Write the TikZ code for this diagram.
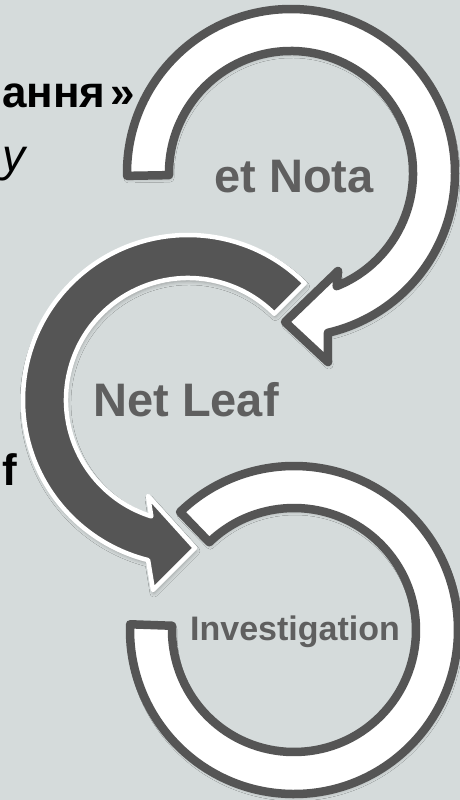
\documentclass[tikz,border=0pt]{standalone}
\usepackage{fontspec}
\setmainfont{Liberation Sans}
\usetikzlibrary{calc,shadows.blur}
\definecolor{bg}{HTML}{D5DBDB}
\definecolor{dk}{HTML}{555555}
\definecolor{lbl}{HTML}{5F5F5F}
\tikzset{
  shd/.style={blur shadow={shadow xshift=1pt, shadow yshift=-3pt, shadow blur radius=4pt, shadow opacity=30}},
  whitearrow/.style={fill=white, draw=dk, line width=8.5pt, line join=round, shd},
  darkarrow/.style={fill=dk, draw=white, line width=4.5pt, line join=round, shd},
  lab/.style={text=lbl, inner sep=0pt, font=\bfseries\fontsize{47}{50}\selectfont},
  smalllab/.style={text=lbl, inner sep=0pt, font=\bfseries\fontsize{34}{38}\selectfont},
  side/.style={text=black, inner sep=0pt},
}
\begin{document}
\begin{tikzpicture}[x=1pt, y=-1pt]
\useasboundingbox (0,0) rectangle (460,800);
\fill[bg] (0,0) rectangle (460,800);
\clip (0,0) rectangle (460,800);

\coordinate (C1) at (291,173);
\coordinate (C2) at (188,400);
\coordinate (C3) at (294,630);

% bottom ring (no head)
\path[whitearrow] ($(C3)+(182:164)$) arc[start angle=182, end angle=-134, radius=164]
  -- ($(C3)+(-134:122)$) arc[start angle=-134, end angle=182, radius=122] -- cycle;

% middle dark arrow
\path[darkarrow] ($(C2)+(-45:165)$) arc[start angle=-45, end angle=-256, radius=165]
  -- (153,590) -- (195,548) -- (148,496)
  -- ($(C2)+(-252.5:122)$) arc[start angle=-252.5, end angle=-45, radius=122] -- cycle;

% top white arrow
\path[whitearrow] ($(C1)+(179:164)$) arc[start angle=179, end angle=437, radius=164]
  -- (328,362) -- (285,322) -- (338,271)
  -- ($(C1)+(428:122)$) arc[start angle=428, end angle=179, radius=122] -- cycle;

% labels
\node[lab] (nota) at (294,177) {et Nota};
\node[lab] (leaf) at (186,400) {Net Leaf};
\node[smalllab, anchor=base] (inv) at (295,640) {Investigation};

% side texts
\node[side, font=\bfseries\fontsize{44}{48}\selectfont, anchor=base east] (t1) at (135,107) {ання\kern5pt»};
\node[side, font=\itshape\fontsize{46}{50}\selectfont, anchor=base west] (t2) at (2,171) {у};
\node[side, font=\bfseries\fontsize{44}{48}\selectfont, anchor=base east] (t3) at (17,485) {f};
\end{tikzpicture}
\end{document}
